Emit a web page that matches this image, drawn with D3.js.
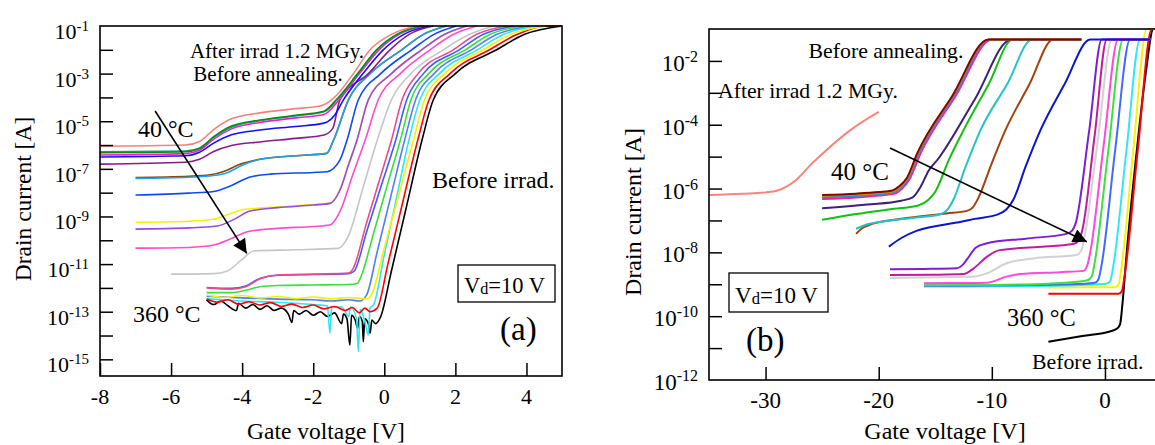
<!DOCTYPE html>
<html>
<head>
<meta charset="utf-8">
<script src="https://cdn.jsdelivr.net/npm/d3@7"></script>
<style>
  body { margin: 0; background: #fff; }
  svg { display: block; }
  text { font-family: "Liberation Serif", "Times New Roman", serif; fill: #000; }
</style>
</head>
<body>
<svg id="chart" width="1155" height="445"></svg>
<script>
// ---- data: [gate voltage V, log10(drain current A)] ----

// panel (a)
const aSalmon = [[-8,-6.05],[-5.6,-6.0],[-5.2,-5.85],[-4.8,-5.35],[-4.3,-4.9],[-3.5,-4.65],[-2.5,-4.47],[-1.8,-4.36],[-1.44,-4.05],[-0.87,-3.0],[-0.4,-2.0],[0.2,-1.35],[0.91,-1.0]];
const aGreen = [[-8,-6.32],[-5.6,-6.28],[-5.2,-6.15],[-4.8,-5.65],[-4.3,-5.2],[-3.5,-4.95],[-2.5,-4.75],[-1.7,-4.58],[-1.35,-4.1],[-0.75,-3.0],[-0.22,-2.0],[0.35,-1.35],[1.05,-1.0]];
const aTeal = [[-8,-6.28],[-5.6,-6.25],[-5.2,-6.12],[-4.8,-5.68],[-4.3,-5.25],[-3.5,-4.98],[-2.5,-4.78],[-1.7,-4.6],[-1.33,-4.1],[-0.73,-3.0],[-0.2,-2.0],[0.37,-1.35],[1.07,-1.0]];
const aMagenta = [[-8,-6.42],[-5.6,-6.36],[-5.2,-6.22],[-4.8,-5.75],[-4.3,-5.32],[-3.5,-5.05],[-2.5,-4.86],[-1.7,-4.72],[-1.3,-4.15],[-0.7,-3.0],[-0.15,-2.0],[0.42,-1.35],[1.12,-1.0]];
const aBlue = [[-8,-6.5],[-5.6,-6.45],[-5.2,-6.3],[-4.8,-5.92],[-4.3,-5.57],[-3.5,-5.37],[-2.5,-5.22],[-1.7,-5.08],[-1.4,-4.75],[-1.15,-4.1],[-0.6,-3.0],[-0.03,-2.0],[0.55,-1.35],[1.24,-1.0]];
const aPurple = [[-8,-6.8],[-5.6,-6.72],[-5.2,-6.6],[-4.8,-6.27],[-4.3,-6.02],[-3.5,-5.87],[-2.5,-5.72],[-1.7,-5.58],[-1.45,-5.3],[-1.25,-4.1],[-0.45,-3.0],[0.16,-2.0],[0.7,-1.35],[1.38,-1.0]];
const aBrown = [[-7,-7.36],[-5.5,-7.31],[-4.9,-7.25],[-4.5,-7.1],[-4.1,-6.83],[-3.5,-6.6],[-2.5,-6.45],[-1.62,-6.35],[-1.43,-5.8],[-1.01,-4.1],[-0.4,-3.0],[0.49,-2.0],[1.1,-1.35],[1.75,-1.0]];
const aSky = [[-7,-7.4],[-5.5,-7.35],[-4.8,-7.28],[-4.4,-7.15],[-4.0,-6.85],[-3.5,-6.6],[-2.5,-6.45],[-1.62,-6.35],[-1.43,-5.8],[-1.01,-4.1],[-0.4,-3.0],[0.49,-2.0],[1.1,-1.35],[1.75,-1.0]];
const aBlue2 = [[-7,-8.1],[-5.5,-8.02],[-4.8,-7.95],[-4.3,-7.7],[-3.8,-7.35],[-3.2,-7.22],[-2.0,-7.15],[-1.62,-7.12],[-1.25,-6.63],[-1.05,-5.8],[-0.73,-4.1],[-0.1,-3.0],[0.77,-2.0],[1.4,-1.35],[2.03,-1.0]];
const aYellow = [[-7,-9.24],[-5.5,-9.2],[-4.8,-9.12],[-4.4,-8.92],[-4.0,-8.72],[-3.0,-8.6],[-2.0,-8.5],[-1.53,-8.45],[-1.25,-7.9],[-1.0,-6.8],[-0.77,-5.8],[-0.45,-4.1],[0.2,-3.0],[1.05,-2.0],[1.7,-1.35],[2.32,-1.0]];
const aPurple2 = [[-7,-9.53],[-5.5,-9.48],[-4.7,-9.4],[-4.2,-9.1],[-3.8,-8.78],[-3.0,-8.63],[-2.0,-8.52],[-1.53,-8.45],[-1.25,-7.9],[-1.0,-6.8],[-0.77,-5.8],[-0.45,-4.1],[0.2,-3.0],[1.05,-2.0],[1.7,-1.35],[2.32,-1.0]];
const aMagenta2 = [[-7,-10.33],[-5.5,-10.3],[-4.8,-10.2],[-4.3,-9.92],[-3.8,-9.62],[-3.0,-9.5],[-2.0,-9.42],[-1.53,-9.36],[-1.25,-8.8],[-0.9,-7.3],[-0.54,-5.8],[-0.17,-4.1],[0.45,-3.0],[1.29,-2.0],[1.95,-1.35],[2.6,-1.0]];
const aGray = [[-6,-11.42],[-4.8,-11.4],[-4.43,-11.3],[-4.0,-10.8],[-3.68,-10.45],[-2.5,-10.4],[-1.3,-10.34],[-1.02,-9.85],[-0.6,-7.8],[-0.2,-5.8],[0.2,-4.1],[0.75,-3.0],[1.66,-2.0],[2.4,-1.35],[3.07,-1.0]];
const aPink = [[-5,-12.0],[-4.3,-12.05],[-3.9,-11.95],[-3.5,-11.62],[-3,-11.46],[-2,-11.42],[-1,-11.38],[-0.9,-11.25],[-0.5,-9.27],[-0.1,-7.29],[0.2,-5.8],[0.5,-4.1],[0.95,-3.0],[1.94,-2.0],[2.6,-1.35],[3.44,-1.0]];
const aBlue3 = [[-5,-11.98],[-4.3,-12.02],[-3.9,-11.92],[-3.5,-11.6],[-3,-11.47],[-2,-11.44],[-1,-11.4],[-0.85,-11.3],[-0.5,-9.65],[-0.1,-7.77],[0.32,-5.8],[0.63,-4.1],[1.1,-3.0],[2.11,-2.0],[2.79,-1.35],[3.66,-1.0]];
const aGreen2 = [[-5,-12.2],[-4.3,-12.2],[-3.9,-12.1],[-3.5,-11.95],[-3,-11.9],[-2,-11.88],[-1,-11.86],[-0.75,-11.8],[-0.65,-11.5],[-0.3,-9.69],[0.1,-7.6],[0.45,-5.8],[0.75,-4.1],[1.25,-3.0],[2.28,-2.0],[2.98,-1.35],[3.88,-1.0]];
const aLblue = [[-5,-12.35],[-4,-12.42],[-3,-12.47],[-2,-12.5],[-1.5,-12.55],[-1,-12.5],[-0.7,-12.55],[-0.5,-12.3],[-0.2,-10.48],[0.2,-8.05],[0.57,-5.8],[0.88,-4.1],[1.4,-3.0],[2.45,-2.0],[3.17,-1.35],[4.1,-1.0]];
const aCyan = [[-5,-12.45],[-4.5,-12.5],[-4,-12.55],[-3,-12.6],[-2.5,-12.65],[-2,-12.7],[-1.6,-12.75],[-1.53,-13.9],[-1.48,-12.8],[-1.2,-12.8],[-1.0,-13.2],[-0.95,-12.8],[-0.78,-13.3],[-0.73,-14.68],[-0.68,-12.9],[-0.55,-13.4],[-0.45,-13.98],[-0.4,-12.85],[-0.3,-12.7],[0.0,-10.6],[0.35,-8.17],[0.69,-5.8],[1.0,-4.1],[1.55,-3.0],[2.62,-2.0],[3.36,-1.35],[4.32,-1.0]];
const aYellow2 = [[-5,-12.3],[-4.5,-12.4],[-4,-12.32],[-3.5,-12.42],[-3,-12.36],[-2.5,-12.45],[-2,-12.38],[-1.5,-12.46],[-1,-12.4],[-0.5,-12.46],[-0.35,-12.25],[0.0,-10.32],[0.4,-8.12],[0.82,-5.8],[1.13,-4.1],[1.7,-3.0],[2.79,-2.0],[3.55,-1.35],[4.54,-1.0]];
const aRed = [[-5,-12.47],[-4.7,-12.6],[-4.4,-12.5],[-4.1,-12.68],[-3.8,-12.58],[-3.5,-12.72],[-3.2,-12.62],[-2.9,-12.78],[-2.6,-12.68],[-2.3,-12.82],[-2.0,-12.72],[-1.7,-12.88],[-1.4,-12.78],[-1.1,-12.95],[-0.9,-12.82],[-0.7,-13.05],[-0.55,-12.85],[-0.4,-13.0],[-0.2,-12.85],[0.1,-11.0],[0.5,-8.52],[0.94,-5.8],[1.26,-4.1],[1.85,-3.0],[2.96,-2.0],[3.74,-1.35],[4.55,-1.0],[5,-1.0]];
const aBlack = [[-5,-12.5],[-4.8,-12.7],[-4.6,-12.55],[-4.4,-12.75],[-4.16,-12.95],[-4.1,-12.65],[-3.9,-12.85],[-3.7,-12.7],[-3.5,-12.9],[-3.3,-12.75],[-3.1,-12.95],[-2.9,-12.85],[-2.7,-13.1],[-2.6,-13.45],[-2.55,-12.95],[-2.4,-13.1],[-2.2,-12.95],[-2.0,-13.15],[-1.8,-13.0],[-1.6,-13.2],[-1.4,-13.05],[-1.2,-13.5],[-1.15,-13.1],[-1.05,-13.3],[-0.97,-14.4],[-0.92,-13.15],[-0.82,-13.35],[-0.75,-13.7],[-0.7,-13.2],[-0.62,-13.4],[-0.59,-14.26],[-0.55,-13.3],[-0.45,-13.5],[-0.4,-13.9],[-0.35,-13.35],[-0.25,-13.5],[-0.1,-13.2],[0.2,-11.29],[0.6,-8.74],[1.06,-5.8],[1.38,-4.1],[2.0,-3.0],[3.16,-2.0],[3.95,-1.35],[5,-1.0]];

// panel (b)
const bSalmon = [[-35,-6.2],[-32,-6.16],[-30,-6.12],[-29,-6.07],[-28.2,-5.95],[-27.2,-5.7],[-26,-5.25],[-24.7,-4.82],[-22.5,-4.17],[-20,-3.6]];
const bDarkred = [[-25,-6.2],[-22,-6.16],[-20,-6.11],[-18.8,-6.06],[-18.2,-5.93],[-17.5,-5.66],[-16.6,-4.9],[-13.5,-3.1],[-10.3,-1.33],[-2.1,-1.33]];
const bGold = [[-25,-6.23],[-22,-6.19],[-20,-6.14],[-18.75,-6.09],[-18.15,-5.96],[-17.45,-5.68],[-16.55,-4.9],[-13.45,-3.1],[-10.25,-1.33],[-2.1,-1.33]];
const bSteel = [[-25,-6.27],[-22,-6.23],[-20,-6.18],[-18.7,-6.12],[-18.1,-5.98],[-17.4,-5.7],[-16.45,-4.9],[-13.35,-3.1],[-10.15,-1.33],[-2.1,-1.33]];
const bMagenta = [[-25,-6.33],[-22,-6.28],[-20,-6.22],[-18.6,-6.16],[-18.0,-6.02],[-17.3,-5.72],[-16.3,-4.9],[-13.2,-3.1],[-10.0,-1.33],[-2.1,-1.33]];
const bIndigo = [[-25,-6.62],[-21,-6.5],[-18,-6.38],[-17,-6.28],[-16.3,-5.95],[-15.6,-5.45],[-14.7,-5.05],[-11.5,-3.2],[-8.3,-1.33],[-2.1,-1.33]];
const bGreen = [[-25,-6.98],[-22,-6.8],[-19,-6.65],[-16.5,-6.53],[-15.6,-6.35],[-15,-6.1],[-13.8,-5.1],[-12.5,-4.17],[-10.3,-2.75],[-8.16,-1.33],[-2.1,-1.33]];
const bCyan = [[-22,-7.26],[-21,-7.12],[-19.7,-7.04],[-17,-6.92],[-14.7,-6.82],[-13.9,-6.65],[-13.4,-6.35],[-12.3,-5.3],[-11,-4.17],[-8.6,-2.7],[-6.45,-1.33],[-2.1,-1.33]];
const bBrown = [[-22,-7.42],[-21.5,-7.25],[-20.9,-7.15],[-18,-6.95],[-14,-6.78],[-12.2,-6.7],[-11.7,-6.6],[-11.2,-6.3],[-10,-5.2],[-8.8,-4.17],[-6.7,-2.75],[-4.57,-1.33],[-2.1,-1.33]];
const bBlue = [[-19.1,-7.82],[-18,-7.55],[-16.6,-7.32],[-15,-7.18],[-13.5,-7.09],[-11.5,-6.95],[-9.4,-6.8],[-8.7,-6.65],[-8.1,-6.35],[-7,-5.3],[-5.7,-4.17],[-3.6,-2.75],[-1.3,-1.33],[4,-1.33]];
const bViolet = [[-19,-8.53],[-16,-8.52],[-13.1,-8.5],[-12.6,-8.4],[-12.2,-8.22],[-11.4,-7.85],[-10.5,-7.72],[-7,-7.57],[-3.4,-7.42],[-2.9,-7.32],[-2.6,-7.1],[-1.4,-4.2],[-0.28,-1.33],[4,-1.33]];
const bMviolet = [[-19,-8.71],[-15,-8.7],[-12.5,-8.68],[-11.6,-8.5],[-10.45,-8.14],[-9.3,-7.93],[-6,-7.83],[-2.8,-7.74],[-2.3,-7.62],[-2.0,-7.3],[-0.9,-4.3],[0.16,-1.33],[4,-1.33]];
const bGray = [[-19,-8.8],[-15,-8.78],[-11.6,-8.76],[-10.45,-8.66],[-8.7,-8.34],[-6.3,-8.19],[-2.5,-8.08],[-2.05,-7.9],[-1.8,-7.5],[-0.6,-4.4],[0.6,-1.33],[4,-1.33]];
const bPink = [[-16,-8.97],[-13,-8.96],[-10.45,-8.95],[-8.7,-8.76],[-7.5,-8.68],[-4,-8.62],[-1.9,-8.58],[-1.6,-8.45],[-1.3,-8.0],[-0.1,-4.6],[1.16,-1.33],[4,-1.33]];
const bGreen2 = [[-16,-9.03],[-10,-9.02],[-5,-8.98],[-1.6,-8.88],[-1.16,-8.75],[-0.9,-8.3],[0.3,-4.8],[1.6,-1.33],[4,-1.33]];
const bBlue2 = [[-16,-9.05],[-8,-9.03],[-3,-9.0],[-0.9,-8.95],[-0.58,-8.85],[-0.3,-8.4],[0.9,-4.8],[2.22,-1.33],[4,-1.33]];
const bCyan2 = [[-16,-9.07],[-8,-9.06],[-2,-9.02],[0.1,-8.98],[0.46,-8.9],[0.75,-8.4],[1.9,-4.8],[3.1,-1.33],[4,-1.33]];
const bYellow = [[-5,-9.1],[-2,-9.09],[0.9,-9.09],[1.19,-9.02],[1.45,-8.5],[2.5,-4.8],[3.7,-1.0],[4.6,-1.0]];
const bRed = [[-5,-9.3],[-2,-9.3],[1.2,-9.3],[1.49,-9.22],[1.75,-8.7],[2.9,-4.8],[4.14,-1.0],[4.6,-1.0]];
const bBlack = [[-5,-10.8],[-2,-10.62],[0.5,-10.47],[1.1,-10.38],[1.34,-10.25],[1.55,-9.6],[1.9,-8.1],[2.82,-4.79],[3.6,-2.4],[4.28,-1.0],[4.6,-1.0]];

// ticks
const aXTicks = [-8, -6, -4, -2, 0, 2, 4];
const aYTicks = [-2, -3, -4, -5, -6, -7, -8, -9, -10, -11, -12, -13, -14, -15];
const aYLabels = [-1, -3, -5, -7, -9, -11, -13, -15];
const bXTicks = [-30, -20, -10, 0];
const bYTicks = [-2, -3, -4, -5, -6, -7, -8, -9, -10, -11];
const bYLabels = [-2, -4, -6, -8, -10, -12];

// series, drawn in this order (bottom first)
const seriesA = [
  { d: aBlack, c: "#000000" }, { d: aCyan, c: "#2fe6f2" }, { d: aRed, c: "#ff0000" },
  { d: aLblue, c: "#4f7dff" }, { d: aYellow2, c: "#f2f200" }, { d: aGreen2, c: "#38e038" },
  { d: aBlue3, c: "#3d5cff" }, { d: aPink, c: "#ea4a8c" }, { d: aGray, c: "#c6c6c6" },
  { d: aMagenta2, c: "#ff4ccc" }, { d: aYellow, c: "#f2f200" }, { d: aPurple2, c: "#9a48e0" },
  { d: aBlue2, c: "#0b4cf2" }, { d: aBrown, c: "#8b4513" }, { d: aSky, c: "#1ea2e8" },
  { d: aPurple, c: "#8a1a8a" }, { d: aBlue, c: "#1010ff" }, { d: aMagenta, c: "#ff18c8" },
  { d: aTeal, c: "#1f9e9e" }, { d: aGreen, c: "#0f8a0f" }, { d: aSalmon, c: "#f4827c" }
];
const seriesB = [
  { d: bBlack, c: "#000000" }, { d: bRed, c: "#ff0000" }, { d: bYellow, c: "#f5f500" },
  { d: bCyan2, c: "#30e8f5" }, { d: bBlue2, c: "#3f6cff" }, { d: bGreen2, c: "#3ee03e" },
  { d: bPink, c: "#ff48dc" }, { d: bGray, c: "#d2d2d2" }, { d: bMviolet, c: "#c21c9e" },
  { d: bViolet, c: "#7a1fd6" }, { d: bBlue, c: "#0b16c8" }, { d: bBrown, c: "#a3420e" },
  { d: bCyan, c: "#22c4c8" }, { d: bGreen, c: "#12c012" }, { d: bIndigo, c: "#3d1f7a" },
  { d: bMagenta, c: "#ff1aaa" }, { d: bSteel, c: "#1a8fd0" }, { d: bGold, c: "#b89a00" },
  { d: bDarkred, c: "#8b0000" }, { d: bSalmon, c: "#f7857c" }
];

const svg = d3.select("#chart");
const defs = svg.append("defs");
defs.append("marker").attr("id", "head")
  .attr("viewBox", "0 0 10 10").attr("refX", 10).attr("refY", 5)
  .attr("markerUnits", "userSpaceOnUse").attr("markerWidth", 18).attr("markerHeight", 14)
  .attr("orient", "auto")
  .append("path").attr("d", "M0,0L10,5L0,10Z").attr("fill", "#000");

function drawPanel(p) {
  const x = d3.scaleLinear().domain(p.xDomain).range([p.left, p.right]);
  const y = d3.scaleLog().domain([10 ** p.yExp[0], 10 ** p.yExp[1]]).range([p.bottom, p.top]);
  const g = svg.append("g");

  defs.append("clipPath").attr("id", "clip-" + p.id).append("rect")
    .attr("x", p.left).attr("y", p.top - 1)
    .attr("width", p.right - p.left).attr("height", p.bottom - p.top + 1);

  const line = d3.line()
    .x(d => x(d[0]))
    .y(d => y(10 ** d[1]))
    .curve(d3.curveMonotoneX);

  g.append("g").attr("clip-path", `url(#clip-${p.id})`)
    .selectAll("path").data(p.series).join("path")
    .attr("d", s => line(s.d))
    .attr("fill", "none")
    .attr("stroke", s => s.c)
    .attr("stroke-width", p.lineWidth)
    .attr("stroke-linejoin", "round");

  // frame
  g.append("rect")
    .attr("x", p.left).attr("y", p.top)
    .attr("width", p.right - p.left).attr("height", p.bottom - p.top)
    .attr("fill", "none").attr("stroke", "#000").attr("stroke-width", 1.6);

  // inward ticks
  const xAxis = g.append("g").attr("transform", `translate(0,${p.bottom})`)
    .call(d3.axisBottom(x).tickValues(p.xTicks).tickSize(-p.tickLen).tickFormat(""));
  const yAxis = g.append("g").attr("transform", `translate(${p.left},0)`)
    .call(d3.axisLeft(y).tickValues(p.yTicks.map(e => 10 ** e)).tickSize(-p.tickLen).tickFormat(""));
  [xAxis, yAxis].forEach(a => {
    a.select(".domain").remove();
    a.selectAll("line").attr("stroke", "#000").attr("stroke-width", 1.5);
  });

  // tick labels
  g.selectAll(".xl").data(p.xTicks).join("text")
    .attr("x", d => x(d)).attr("y", p.bottom + 28)
    .attr("text-anchor", "middle").style("font-size", p.tickFont + "px")
    .text(d => String(d));

  p.yLabels.forEach(e => {
    const t = g.append("text")
      .attr("x", p.left - 11).attr("y", y(10 ** e) + p.labelDy)
      .attr("text-anchor", "end").style("font-size", p.tickFont + "px");
    t.append("tspan").text("10");
    t.append("tspan").attr("dy", -p.supRaise).style("font-size", p.supFont + "px").text(String(e));
  });

  // axis titles
  g.append("text").attr("x", p.xTitle[0]).attr("y", p.xTitle[1])
    .attr("text-anchor", "middle").style("font-size", p.titleFont + "px")
    .text("Gate voltage [V]");
  g.append("text")
    .attr("transform", `translate(${p.yTitle[0]},${p.yTitle[1]}) rotate(-90)`)
    .attr("text-anchor", "middle").style("font-size", p.titleFont + "px")
    .text("Drain current [A]");

  // arrow from first to last annealing temperature
  g.append("line")
    .attr("x1", x(p.arrow[0][0])).attr("y1", y(10 ** p.arrow[0][1]))
    .attr("x2", x(p.arrow[1][0])).attr("y2", y(10 ** p.arrow[1][1]))
    .attr("stroke", "#000").attr("stroke-width", 1.6)
    .attr("marker-end", "url(#head)");

  // annotations
  p.notes.forEach(n => {
    g.append("text").attr("x", n.x).attr("y", n.y)
      .attr("text-anchor", n.anchor || "start")
      .style("font-size", n.size + "px").text(n.text);
  });

  // V_d box
  const b = p.vdBox;
  g.append("rect").attr("x", b.x).attr("y", b.y).attr("width", b.w).attr("height", b.h)
    .attr("fill", "#fff").attr("stroke", "#000").attr("stroke-width", 1.3);
  const vt = g.append("text").attr("x", b.x + 6).attr("y", b.y + b.h - 9)
    .style("font-size", b.size + "px");
  vt.append("tspan").text("V");
  vt.append("tspan").attr("dy", 1).style("font-size", (b.size * 0.72) + "px").text("d");
  vt.append("tspan").attr("dy", -1).text("=10 V");
}

drawPanel({
  id: "a", xDomain: [-8, 5], yExp: [-15.7, -1],
  left: 100, right: 562, top: 26, bottom: 376,
  series: seriesA, lineWidth: 1.6,
  xTicks: aXTicks, yTicks: aYTicks, yLabels: aYLabels, tickLen: 13,
  tickFont: 22, supFont: 15, supRaise: 8, labelDy: 13, titleFont: 23.5,
  xTitle: [326, 439], yTitle: [31, 199],
  arrow: [[-6.45, -4.57], [-3.87, -10.55]],
  notes: [
    { text: "After irrad 1.2 MGy.", x: 277, y: 57.5, size: 21, anchor: "middle" },
    { text: "Before annealing.", x: 268, y: 81, size: 21, anchor: "middle" },
    { text: "40 °C", x: 138, y: 137, size: 24 },
    { text: "Before irrad.", x: 432, y: 188, size: 24 },
    { text: "360 °C", x: 133, y: 321.5, size: 24 },
    { text: "(a)", x: 500, y: 340, size: 33 }
  ],
  vdBox: { x: 458, y: 265, w: 97, h: 37, size: 22.5 }
});

drawPanel({
  id: "b", xDomain: [-35, 4.6], yExp: [-12, -1],
  left: 709, right: 1157, top: 29, bottom: 380,
  series: seriesB, lineWidth: 2,
  xTicks: bXTicks, yTicks: bYTicks, yLabels: bYLabels, tickLen: 13,
  tickFont: 23, supFont: 16, supRaise: 9, labelDy: 10, titleFont: 24,
  xTitle: [945, 439], yTitle: [641, 212],
  arrow: [[-19.0, -4.73], [-1.6, -7.67]],
  notes: [
    { text: "Before annealing.", x: 886, y: 58, size: 21.8, anchor: "middle" },
    { text: "After irrad 1.2 MGy.", x: 718, y: 98, size: 21.7 },
    { text: "40 °C", x: 831, y: 180, size: 25 },
    { text: "360 °C", x: 1007, y: 326, size: 24.4 },
    { text: "Before irrad.", x: 1032, y: 368.5, size: 21.8 },
    { text: "(b)", x: 746, y: 351, size: 33 }
  ],
  vdBox: { x: 729, y: 273, w: 99, h: 39, size: 23 }
});
</script>
</body>
</html>
